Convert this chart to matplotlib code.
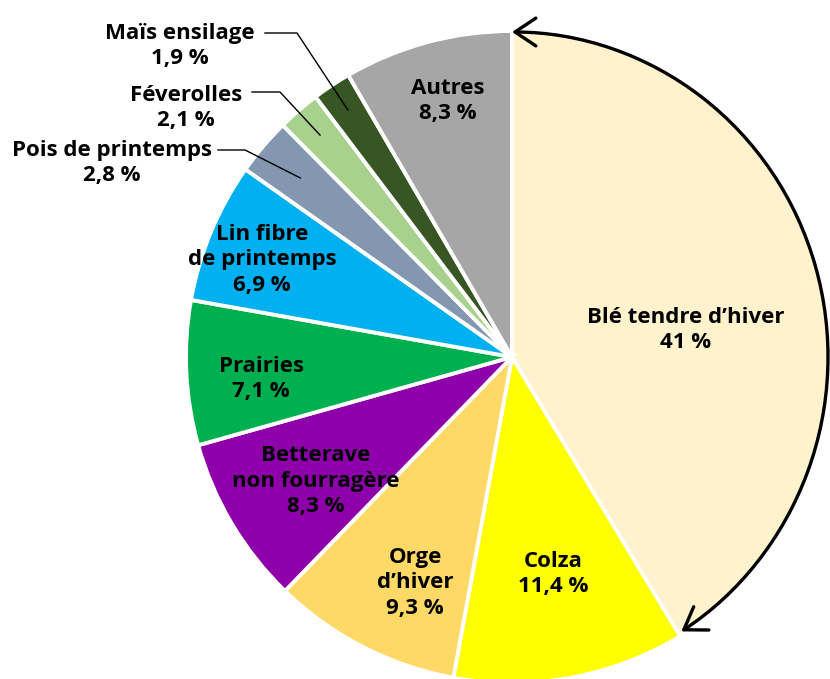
import matplotlib
matplotlib.use("Agg")
import matplotlib.pyplot as plt
import numpy as np
from matplotlib.patches import FancyArrowPatch, Ellipse
from matplotlib.path import Path
from matplotlib.transforms import Affine2D

# Données
categories = ["Blé tendre d\u2019hiver", "Colza", "Orge\nd\u2019hiver",
              "Betterave\nnon fourragère", "Prairies", "Lin fibre\nde printemps",
              "Pois de printemps", "Féverolles", "Maïs ensilage", "Autres"]
values = [41.0, 11.4, 9.3, 8.3, 7.1, 6.9, 2.8, 2.1, 1.9, 8.3]
pct_labels = ["41 %", "11,4 %", "9,3 %", "8,3 %", "7,1 %", "6,9 %",
              "2,8 %", "2,1 %", "1,9 %", "8,3 %"]
colors = ["#FFF2CC", "#FFFF00", "#FFD966", "#8E00AA", "#00B050", "#00B0F0",
          "#8497B0", "#A9D18E", "#375623", "#A6A6A6"]

plt.rcParams['font.family'] = ['Open Sans', 'DejaVu Sans']

W, H = 830, 679
fig = plt.figure(figsize=(W / 100, H / 100), dpi=100)
ax = fig.add_axes([0, 0, 1, 1])
ax.set_aspect("equal")
ax.axis("off")

cx, cy = 512, H - 357
R = 326

wedges, _ = ax.pie(values, colors=colors, startangle=90, counterclock=False,
                   center=(cx, cy), radius=R, normalize=True,
                   wedgeprops=dict(edgecolor="white", linewidth=2.8))
ax.set_xlim(0, W)
ax.set_ylim(0, H)

# le blé s'arrête sur la flèche
arc_rx, arc_ry = 316, 325
clip = Ellipse((cx, cy), 2 * arc_rx + 2, 2 * arc_ry + 2, transform=ax.transData)
wedges[0].set_clip_on(True)
wedges[0].set_clip_path(clip)

# centres des étiquettes (pixels, origine en haut à gauche)
label_pos = {0: (686, 330), 1: (553, 574), 2: (415, 583), 3: (316, 481),
             4: (261, 379), 5: (262, 260), 9: (448, 101),
             6: (112, 163), 7: (186, 108), 8: (180, 46)}
fs = 16
for i, (tx, ty) in label_pos.items():
    ax.text(tx, H - ty, categories[i] + "\n" + pct_labels[i], ha="center", va="center",
            fontsize=fs, fontweight="bold", linespacing=1.27)

# traits de rappel pour les petites parts : (x début, x coude, y, fraction du rayon)
leaders = {6: (218, 245, 150, 0.85), 7: (252, 280, 92, 0.90), 8: (265, 297, 33, 0.91)}
for i, (x0, x1, ly, rf) in leaders.items():
    w = wedges[i]
    mid = np.deg2rad((w.theta1 + w.theta2) / 2)
    px = cx + rf * R * np.cos(mid)
    py = cy + rf * R * np.sin(mid)
    ax.plot([x0, x1, px], [H - ly, H - ly, py], color="black", lw=1.0)

# flèche courbe autour du blé
theta_end = 90 - values[0] / 100 * 360
arc = Path.arc(theta_end, 90)
arc = Affine2D().scale(arc_rx, arc_ry).translate(cx, cy).transform_path(arc)
arrow = FancyArrowPatch(path=arc, arrowstyle="<->,head_length=15,head_width=10",
                        color="black", lw=2.4, shrinkA=0, shrinkB=0)
ax.add_patch(arrow)

fig.savefig("out.png", dpi=100, facecolor="white")
